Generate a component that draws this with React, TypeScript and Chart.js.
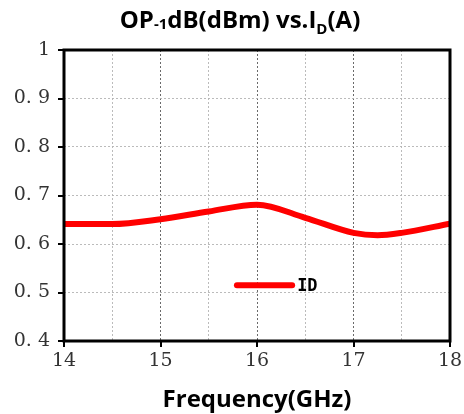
import React, { useEffect, useRef } from "react";
import { Chart, registerables } from "chart.js";

Chart.register(...registerables);

const frequencies = [14, 14.5, 15, 15.5, 16, 16.5, 17, 17.25, 17.5, 18];
const idValues = [0.641, 0.641, 0.651, 0.667, 0.681, 0.654, 0.623, 0.618, 0.623, 0.642];
const seriesLabel = "ID";
const xAxisTitle = "Frequency(GHz)";
const yMin = 0.4;
const yMax = 1;
const xMin = 14;
const xMax = 18;

const overlayPlugin = {
  id: "overlay",
  afterDraw(chart: any) {
    const ctx = chart.ctx as CanvasRenderingContext2D;
    const a = chart.chartArea;
    const xs = chart.scales.x;
    const ys = chart.scales.y;
    ctx.save();
    ctx.strokeStyle = "#000";
    ctx.lineWidth = 3;
    ctx.strokeRect(a.left, a.top, a.right - a.left, a.bottom - a.top);
    ctx.lineWidth = 2;
    ctx.beginPath();
    for (let v = yMin; v <= yMax + 1e-9; v += 0.1) {
      const y = Math.round(ys.getPixelForValue(v));
      ctx.moveTo(a.left - 6, y);
      ctx.lineTo(a.left, y);
    }
    for (let v = xMin; v <= xMax; v += 1) {
      const x = Math.round(xs.getPixelForValue(v));
      ctx.moveTo(x, a.bottom);
      ctx.lineTo(x, a.bottom + 6);
    }
    ctx.stroke();

    const parts: [string, number, number][] = [
      ["OP", 24, 0],
      ["-1", 15, 1],
      ["dB(dBm) vs.I", 24, 0],
      ["D", 15, 6],
      ["(A)", 24, 0],
    ];
    const fam = '"Open Sans", sans-serif';
    let total = 0;
    for (const [t, s] of parts) {
      ctx.font = `bold ${s}px ${fam}`;
      total += ctx.measureText(t).width;
    }
    let x = 240 - total / 2;
    const baseY = 28;
    ctx.fillStyle = "#000";
    ctx.textBaseline = "alphabetic";
    ctx.textAlign = "left";
    for (const [t, s, dy] of parts) {
      ctx.font = `bold ${s}px ${fam}`;
      ctx.fillText(t, x, baseY + dy);
      x += ctx.measureText(t).width;
    }

    ctx.font = `bold 24px ${fam}`;
    ctx.textAlign = "center";
    ctx.fillText(xAxisTitle, 257, 407);

    const lx1 = a.left + (a.right - a.left) * 0.448;
    const lx2 = a.left + (a.right - a.left) * 0.591;
    const ly = a.top + (a.bottom - a.top) * 0.808;
    ctx.strokeStyle = "#ff0000";
    ctx.lineWidth = 6;
    ctx.lineCap = "round";
    ctx.beginPath();
    ctx.moveTo(lx1, ly);
    ctx.lineTo(lx2, ly);
    ctx.stroke();
    ctx.fillStyle = "#000";
    ctx.font = 'bold 17px "DejaVu Sans Mono", monospace';
    ctx.textAlign = "left";
    ctx.textBaseline = "middle";
    ctx.fillText(seriesLabel, lx2 + 5, ly + 1);
    ctx.restore();
  },
};

export default function App() {
  const ref = useRef<HTMLCanvasElement | null>(null);
  useEffect(() => {
    document.body.style.margin = "0";
    const canvas = ref.current!;
    const chart = new Chart(canvas, {
      type: "line",
      data: {
        datasets: [
          {
            label: seriesLabel,
            data: frequencies.map((f, i) => ({ x: f, y: idValues[i] })),
            borderColor: "#ff0000",
            borderWidth: 6,
            pointRadius: 0,
            tension: 0.4,
            cubicInterpolationMode: "monotone",
            fill: false,
          },
        ],
      },
      options: {
        responsive: false,
        animation: false,
        layout: { padding: { top: 50, right: 14, left: 0, bottom: 0 } },
        plugins: { legend: { display: false }, title: { display: false }, tooltip: { enabled: false } },
        scales: {
          x: {
            type: "linear",
            min: xMin,
            max: xMax,
            border: { display: false, dash: [2, 2] },
            afterFit: (s: any) => {
              s.height = 73;
              s.paddingLeft = 0;
              s.paddingRight = 0;
            },
            ticks: {
              stepSize: 0.5,
              autoSkip: false,
              maxRotation: 0,
              padding: 9,
              color: "#333",
              font: { family: '"DejaVu Serif", serif', size: 19 },
              callback: (v: any) => (Number.isInteger(Number(v)) ? String(v) : ""),
            },
            grid: {
              drawTicks: false,
              lineWidth: 1,
              color: (c: any) =>
                Number.isInteger(c.tick?.value) ? "rgba(90,90,90,0.9)" : "rgba(180,180,180,0.9)",
            },
          },
          y: {
            min: yMin,
            max: yMax,
            border: { display: false, dash: [2, 2] },
            afterFit: (s: any) => {
              s.width = 64;
              s.paddingTop = 0;
              s.paddingBottom = 0;
            },
            ticks: {
              stepSize: 0.1,
              padding: 14,
              color: "#333",
              font: { family: '"DejaVu Serif", serif', size: 19 },
              callback: (v: any) => {
                const n = Number(v);
                return Math.abs(n - 1) < 1e-9 ? "1" : n.toFixed(1).replace(".", ". ");
              },
            },
            grid: {
              drawTicks: false,
              lineWidth: 1,
              color: "rgba(180,180,180,0.9)",
            },
          },
        },
      } as any,
      plugins: [overlayPlugin],
    });
    return () => chart.destroy();
  }, []);
  return <canvas ref={ref} width={464} height={414} style={{ display: "block" }} />;
}
